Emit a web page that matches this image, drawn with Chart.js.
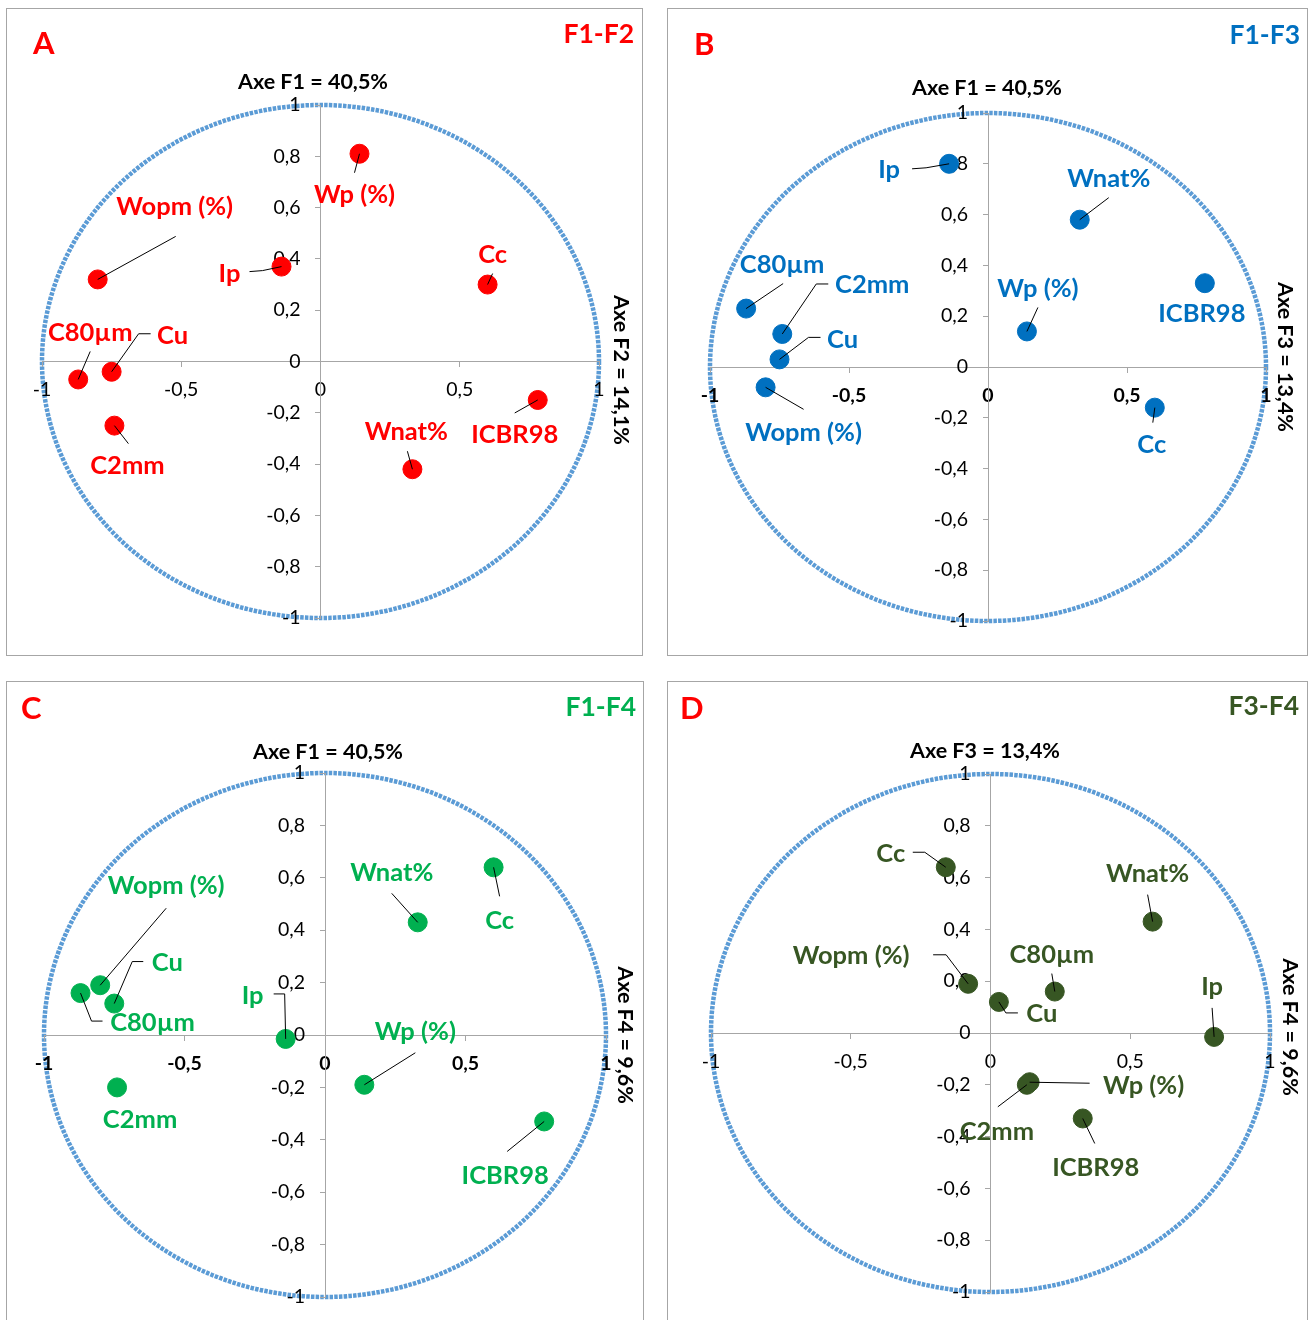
<!DOCTYPE html>
<html>
<head>
<meta charset="utf-8">
<script src="https://cdn.jsdelivr.net/npm/chart.js@4.4.1/dist/chart.umd.min.js"></script>
<style>
  body { margin: 0; background: #fff; width: 1309px; height: 1320px; overflow: hidden; position: relative; }
  .panel { position: absolute; border: 1px solid #a6a6a6; background: #fff; }
  .panel canvas { display: block; }
</style>
</head>
<body>
<div class="panel" id="pA" style="left:6px; top:8px;"><canvas id="cA"></canvas></div>
<div class="panel" id="pB" style="left:667px; top:8px;"><canvas id="cB"></canvas></div>
<div class="panel" id="pC" style="left:6px; top:681px;"><canvas id="cC"></canvas></div>
<div class="panel" id="pD" style="left:667px; top:681px;"><canvas id="cD"></canvas></div>

<script>
/* ---- Données : corrélations variables / axes factoriels ---- */
const variables = ['Wp (%)', 'Wopm (%)', 'Ip', 'Cc', 'C80µm', 'Cu', 'C2mm', 'ICBR98', 'Wnat%'];
const F1 = [0.14, -0.80, -0.14, 0.60, -0.87, -0.75, -0.74, 0.78, 0.33];
const F2 = [0.81, 0.32, 0.37, 0.30, -0.07, -0.04, -0.25, -0.15, -0.42];
const F3 = [0.14, -0.08, 0.80, -0.16, 0.23, 0.03, 0.13, 0.33, 0.58];
const F4 = [-0.19, 0.19, -0.015, 0.64, 0.16, 0.12, -0.20, -0.33, 0.43];

const axisNames   = ['F1', 'F2', 'F3', 'F4'];
const axisInertia = ['40,5%', '14,1%', '13,4%', '9,6%'];

const xTickValues = [-1, -0.5, 0, 0.5, 1];
const yTickValues = [-1, -0.8, -0.6, -0.4, -0.2, 0, 0.2, 0.4, 0.6, 0.8, 1];

/* ---- Mise en page des étiquettes (décalages en px par rapport au point) ---- */
const labelsA = {
  'Wp (%)':   [-5, 41, [[-5, 19]]],
  'Wopm (%)': [77, -73, [[78, -43]]],
  'Ip':       [-52, 7, [[-19, 4], [-32, 5]]],
  'Cc':       [5, -30, [[5, -11]]],
  'C80µm':    [12, -47, [[12, -28]]],
  'Cu':       [61, -36, [[27, -38], [39, -38]]],
  'C2mm':     [13, 40, [[14, 18]]],
  'ICBR98':   [-23, 35, [[-23, 13]]],
  'Wnat%':    [-6, -37, [[-5, -18]]],
};
const labelsB = {
  'Ip':       [-60, 6, [[-23, 4], [-37, 5]]],
  'Wnat%':    [29, -41, [[29, -22]]],
  'ICBR98':   [-3, 31, []],
  'Wp (%)':   [11, -43, [[11, -24]]],
  'C80µm':    [36, -44, [[37, -25]]],
  'C2mm':     [90, -49, [[34, -50], [46, -50]]],
  'Cu':       [63, -20, [[29, -22], [41, -22]]],
  'Wopm (%)': [38, 45, [[38, 22]]],
  'Cc':       [-3, 37, [[-2, 15]]],
};
const labelsC = {
  'Cc':       [6, 53, [[6, 29]]],
  'Wnat%':    [-26, -50, [[-26, -29]]],
  'Wopm (%)': [66, -99, [[66, -77]]],
  'C80µm':    [72, 30, [[11, 28], [22, 28]]],
  'Cu':       [53, -41, [[18, -42], [29, -42]]],
  'Ip':       [-33, -43, [[-1, -45], [-12, -45]]],
  'Wp (%)':   [51, -53, [[51, -32]]],
  'C2mm':     [23, 32, []],
  'ICBR98':   [-39, 54, [[-37, 30]]],
};
const labelsD = {
  'Cc':       [-55, -13, [[-21, -15], [-33, -15]]],
  'Wnat%':    [-5, -48, [[-5, -27]]],
  'Wopm (%)': [-117, -28, [[-22, -29], [-35, -29]]],
  'C80µm':    [-3, -37, [[-3, -18]]],
  'Cu':       [43, 12, [[7, 11], [19, 11]]],
  'Ip':       [-2, -50, [[-2, -29]]],
  'Wp (%)':   [114, 4, [[60, 1]]],
  'C2mm':     [-30, 47, [[-29, 22]]],
  'ICBR98':   [13, 49, [[12, 25]]],
};

const FONT = 'Lato, "Open Sans", sans-serif';
const fmt = v => String(Math.round(v * 10) / 10).replace('.', ',');
// axe vertical centré : Chart.js colle les libellés à l'axe, on ajoute un retrait
const fmtY = v => fmt(v) + '    ';

/* ---- Plugin : cercle des corrélations (sous les axes) ---- */
const unitCircle = {
  id: 'unitCircle',
  beforeDraw(chart) {
    const { ctx, scales: { x, y } } = chart;
    const cx = x.getPixelForValue(0), cy = y.getPixelForValue(0);
    const rx = x.getPixelForValue(1) - cx, ry = cy - y.getPixelForValue(1);
    ctx.save();
    ctx.strokeStyle = '#5B9BD5';
    ctx.lineWidth = 4.5;
    ctx.setLineDash([3.5, 1.2]);
    ctx.beginPath();
    ctx.ellipse(cx, cy, rx, ry, 0, 0, Math.PI * 2);
    ctx.stroke();
    ctx.restore();
  }
};

/* ---- Plugin : étiquettes, traits de rappel, titres ---- */
const annotations = {
  id: 'annotations',
  afterDraw(chart, args, opts) {
    const { ctx } = chart;
    const meta = chart.getDatasetMeta(0);
    ctx.save();
    // traits de rappel
    ctx.strokeStyle = '#000';
    ctx.lineWidth = 1;
    meta.data.forEach((pt, i) => {
      const lab = opts.labels[variables[i]];
      if (!lab || !lab[2].length) return;
      ctx.beginPath();
      ctx.moveTo(pt.x, pt.y);
      lab[2].forEach(p => ctx.lineTo(pt.x + p[0], pt.y + p[1]));
      ctx.stroke();
    });
    // étiquettes des variables
    ctx.fillStyle = opts.color;
    ctx.font = 'bold 25.5px ' + FONT;
    ctx.textAlign = 'center';
    ctx.textBaseline = 'middle';
    meta.data.forEach((pt, i) => {
      const lab = opts.labels[variables[i]];
      ctx.fillText(variables[i], pt.x + lab[0], pt.y + lab[1]);
    });
    // lettre du panneau
    ctx.fillStyle = '#FF0000';
    ctx.font = 'bold 31px ' + FONT;
    ctx.textAlign = 'left';
    ctx.fillText(opts.letter, opts.letterPos[0], opts.letterPos[1]);
    // plan factoriel
    ctx.fillStyle = opts.color;
    ctx.font = 'bold 26.5px ' + FONT;
    ctx.textAlign = 'right';
    ctx.fillText(opts.plane, opts.planePos[0], opts.planePos[1]);
    // titres d'axes
    ctx.fillStyle = '#000';
    ctx.font = 'bold 21.5px ' + FONT;
    ctx.textAlign = 'center';
    ctx.fillText(opts.xTitle, opts.xTitlePos[0], opts.xTitlePos[1]);
    ctx.translate(opts.yTitlePos[0], opts.yTitlePos[1]);
    ctx.rotate(Math.PI / 2);
    ctx.fillText(opts.yTitle, 0, 0);
    ctx.restore();
  }
};

function axisTitle(k) {
  return 'Axe ' + axisNames[k] + ' = ' + axisInertia[k];
}

function makePanel(cfg) {
  const panel = document.getElementById(cfg.panel);
  const canvas = document.getElementById(cfg.canvas);
  panel.style.width = cfg.w + 'px';
  panel.style.height = cfg.h + 'px';
  canvas.width = cfg.w;
  canvas.height = cfg.h;

  const tickFont = bold => ({ family: FONT, size: 19.5, weight: bold ? 'bold' : 'normal' });

  new Chart(canvas, {
    type: 'scatter',
    data: {
      datasets: [{
        data: cfg.xs.map((v, i) => ({ x: v, y: cfg.ys[i] })),
        backgroundColor: cfg.color,
        borderColor: cfg.color,
        pointRadius: 9.5,
        pointHoverRadius: 9.5,
      }]
    },
    options: {
      responsive: false,
      animation: false,
      layout: { padding: cfg.pad },
      plugins: {
        legend: { display: false },
        tooltip: { enabled: false },
        annotations: {
          labels: cfg.labels, color: cfg.color,
          letter: cfg.letter, letterPos: cfg.letterPos,
          plane: cfg.plane, planePos: cfg.planePos,
          xTitle: cfg.xTitle, xTitlePos: cfg.xTitlePos,
          yTitle: cfg.yTitle, yTitlePos: cfg.yTitlePos,
        },
      },
      scales: {
        x: {
          type: 'linear', min: -1, max: 1,
          position: { y: 0 },
          afterFit: s => { s.height = 0; },
          afterBuildTicks: s => { s.ticks = xTickValues.map(v => ({ value: v })); },
          ticks: { callback: fmt, font: tickFont(cfg.boldX), color: '#000', padding: 12, maxRotation: 0, autoSkip: false },
          grid: { drawOnChartArea: false, drawTicks: true, tickLength: 5, color: '#a6a6a6' },
          border: { color: '#a6a6a6', width: 1 },
        },
        y: {
          type: 'linear', min: -1, max: 1,
          position: { x: 0 },
          afterFit: s => { s.width = 0; },
          afterBuildTicks: s => { s.ticks = yTickValues.map(v => ({ value: v })); },
          ticks: { callback: fmtY, font: tickFont(false), color: '#000', padding: 14, autoSkip: false },
          grid: { drawOnChartArea: false, drawTicks: true, tickLength: 5, color: '#a6a6a6' },
          border: { color: '#a6a6a6', width: 1 },
        },
      },
    },
    plugins: [unitCircle, annotations],
  });
}

document.addEventListener('DOMContentLoaded', () => {
  makePanel({
    panel: 'pA', canvas: 'cA', w: 635, h: 646,
    pad: { left: 35, right: 43, top: 96, bottom: 37 },
    xs: F1, ys: F2, color: '#FF0000', boldX: false, labels: labelsA,
    letter: 'A', letterPos: [26, 35], plane: 'F1-F2', planePos: [627, 25],
    xTitle: axisTitle(0), xTitlePos: [306, 73], yTitle: axisTitle(1), yTitlePos: [614, 361],
  });
  makePanel({
    panel: 'pB', canvas: 'cB', w: 639, h: 646,
    pad: { left: 42, right: 41, top: 104, bottom: 34 },
    xs: F1, ys: F3, color: '#0070C0', boldX: true, labels: labelsB,
    letter: 'B', letterPos: [26, 36], plane: 'F1-F3', planePos: [632, 26],
    xTitle: axisTitle(0), xTitlePos: [319, 79], yTitle: axisTitle(2), yTitlePos: [617, 348],
  });
  makePanel({
    panel: 'pC', canvas: 'cC', w: 636, h: 658,
    pad: { left: 37, right: 37, top: 91, bottom: 43 },
    xs: F1, ys: F4, color: '#00B050', boldX: true, labels: labelsC,
    letter: 'C', letterPos: [14, 27], plane: 'F1-F4', planePos: [629, 25],
    xTitle: axisTitle(0), xTitlePos: [321, 70], yTitle: axisTitle(3), yTitlePos: [618, 353],
  });
  makePanel({
    panel: 'pD', canvas: 'cD', w: 639, h: 658,
    pad: { left: 43, right: 37, top: 92, bottom: 48 },
    xs: F3, ys: F4, color: '#375623', boldX: false, labels: labelsD,
    letter: 'D', letterPos: [12, 27], plane: 'F3-F4', planePos: [631, 24],
    xTitle: axisTitle(2), xTitlePos: [317, 69], yTitle: axisTitle(3), yTitlePos: [622, 345],
  });
});
</script>
</body>
</html>
